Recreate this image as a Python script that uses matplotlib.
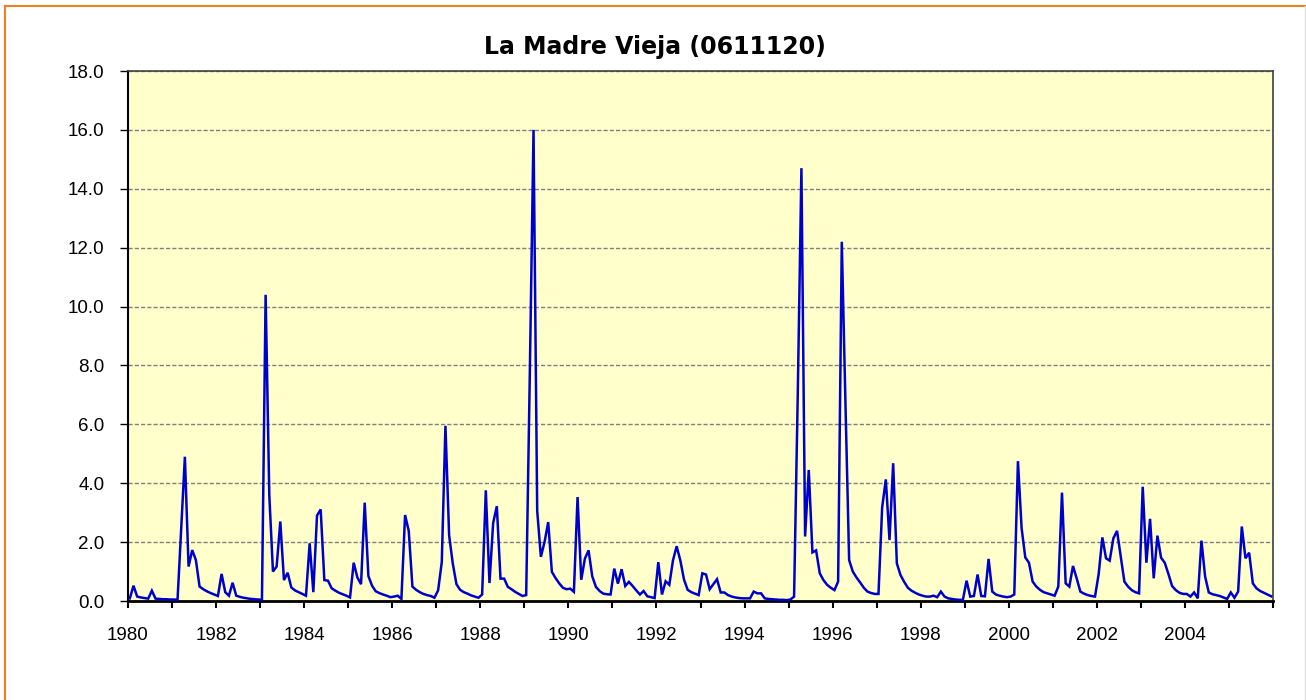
import numpy as np
import matplotlib
matplotlib.use("Agg")
import matplotlib.pyplot as plt
from matplotlib.lines import Line2D

title = "La Madre Vieja (0611120)"
start_year = 1980

# Monthly values, Jan 1980 - Dec 2005
flow_1980s = [
    0.09, 0.52, 0.15, 0.12, 0.10, 0.08, 0.35, 0.08, 0.07, 0.06, 0.06, 0.05,
    0.05, 0.04, 2.45, 4.90, 1.17, 1.73, 1.39, 0.49, 0.40, 0.33, 0.27, 0.22,
    0.17, 0.92, 0.30, 0.18, 0.62, 0.18, 0.14, 0.11, 0.09, 0.07, 0.06, 0.05,
    0.04, 10.4, 3.60, 1.00, 1.17, 2.70, 0.71, 0.96, 0.46, 0.36, 0.30, 0.24,
    0.18, 1.96, 0.30, 2.90, 3.11, 0.71, 0.69, 0.43, 0.35, 0.28, 0.23, 0.18,
    0.12, 1.30, 0.80, 0.57, 3.34, 0.85, 0.52, 0.33, 0.27, 0.22, 0.18, 0.13,
    0.15, 0.18, 0.07, 2.92, 2.38, 0.49, 0.38, 0.30, 0.24, 0.20, 0.17, 0.11,
    0.36, 1.32, 5.95, 2.23, 1.27, 0.57, 0.38, 0.30, 0.25, 0.19, 0.15, 0.11,
    0.22, 3.76, 0.61, 2.65, 3.22, 0.76, 0.76, 0.48, 0.40, 0.31, 0.24, 0.17,
    0.20, 7.80, 16.0, 3.07, 1.50, 2.00, 2.68, 0.99, 0.78, 0.60, 0.45, 0.40,
]
flow_1990s = [
    0.42, 0.31, 3.53, 0.72, 1.44, 1.72, 0.84, 0.48, 0.34, 0.25, 0.23, 0.22,
    1.10, 0.59, 1.08, 0.51, 0.65, 0.51, 0.36, 0.22, 0.34, 0.16, 0.13, 0.10,
    1.32, 0.22, 0.67, 0.55, 1.38, 1.86, 1.38, 0.73, 0.38, 0.30, 0.25, 0.20,
    0.94, 0.90, 0.40, 0.57, 0.74, 0.29, 0.29, 0.20, 0.15, 0.12, 0.10, 0.09,
    0.09, 0.09, 0.32, 0.26, 0.26, 0.09, 0.07, 0.06, 0.05, 0.04, 0.04, 0.03,
    0.05, 0.15, 7.00, 14.7, 2.19, 4.45, 1.65, 1.72, 0.94, 0.71, 0.55, 0.45,
    0.37, 0.66, 12.2, 6.70, 1.39, 1.00, 0.80, 0.63, 0.45, 0.32, 0.27, 0.24,
    0.24, 3.18, 4.13, 2.07, 4.68, 1.28, 0.88, 0.65, 0.45, 0.35, 0.28, 0.22,
    0.18, 0.15, 0.15, 0.18, 0.13, 0.32, 0.15, 0.09, 0.07, 0.05, 0.04, 0.04,
    0.69, 0.15, 0.17, 0.90, 0.17, 0.16, 1.43, 0.32, 0.22, 0.18, 0.15, 0.13,
]
flow_2000s = [
    0.15, 0.22, 4.75, 2.47, 1.48, 1.30, 0.66, 0.49, 0.38, 0.30, 0.26, 0.22,
    0.18, 0.49, 3.68, 0.60, 0.49, 1.19, 0.77, 0.32, 0.25, 0.20, 0.17, 0.15,
    0.92, 2.16, 1.45, 1.37, 2.13, 2.38, 1.51, 0.66, 0.49, 0.37, 0.30, 0.26,
    3.88, 1.30, 2.79, 0.77, 2.22, 1.47, 1.30, 0.92, 0.51, 0.37, 0.28, 0.24,
    0.24, 0.15, 0.29, 0.09, 2.05, 0.83, 0.29, 0.23, 0.20, 0.17, 0.12, 0.07,
    0.29, 0.11, 0.32, 2.53, 1.45, 1.64, 0.60, 0.43, 0.34, 0.28, 0.22, 0.16,
]
year_labels = [str(y) for y in range(1980, 2006, 2)]
y_ticks = [0, 2, 4, 6, 8, 10, 12, 14, 16, 18]

flow = np.array(flow_1980s + flow_1990s + flow_2000s)
months = np.arange(len(flow)) + 0.5
n_months = len(flow)

W, H = 1306, 700
fig = plt.figure(figsize=(W / 100, H / 100), dpi=100)
fig.patch.set_facecolor("white")

# outer frame (orange top/left, light grey right)
orange = "#F0821E"
fig.add_artist(Line2D([5 / W, 1.0], [1 - 6 / H, 1 - 6 / H], color=orange, lw=1.5,
                      transform=fig.transFigure))
fig.add_artist(Line2D([5 / W, 5 / W], [0, 1 - 6 / H], color=orange, lw=1.5,
                      transform=fig.transFigure))
fig.add_artist(Line2D([1304.5 / W, 1304.5 / W], [0, 1 - 6 / H], color="#E0E0E0", lw=1.0,
                      transform=fig.transFigure))

ax = fig.add_axes([128 / W, 99 / H, 1145 / W, 530 / H])
ax.set_facecolor("#FFFFCC")

ax.plot(months, flow, color="#0000CC", lw=1.8, solid_joinstyle="miter", zorder=3)

ax.set_xlim(0, n_months)
ax.set_ylim(0, 18)

ax.set_yticks(y_ticks)
ax.set_yticklabels([f"{v:.1f}" for v in y_ticks])
ax.yaxis.grid(True, color="#808080", linestyle=(0, (3, 1.5)), lw=1.0)
ax.set_axisbelow(True)

ax.set_xticks(np.arange(len(year_labels)) * 24)
ax.set_xticklabels(year_labels)
ax.set_xticks(np.arange(0, n_months + 1, 12), minor=True)

font = "Liberation Sans"
for lab in ax.get_yticklabels() + ax.get_xticklabels():
    lab.set_fontfamily(font)
    lab.set_fontsize(13.5)
    lab.set_color("black")

ax.tick_params(axis="y", direction="out", length=6, width=1, pad=11)
ax.tick_params(axis="x", which="both", direction="out", length=5, width=1.5, pad=14)

for side in ["left", "bottom"]:
    ax.spines[side].set_color("black")
ax.spines["left"].set_linewidth(1.5)
ax.spines["bottom"].set_linewidth(2)
for side in ["top", "right"]:
    ax.spines[side].set_color("#404040")
    ax.spines[side].set_linewidth(1.2)

fig.text(655 / W, 1 - 47 / H, title, ha="center", va="center",
         fontsize=17, fontweight="bold", family="DejaVu Sans")

fig.savefig("out.png", dpi=100, facecolor="white")
